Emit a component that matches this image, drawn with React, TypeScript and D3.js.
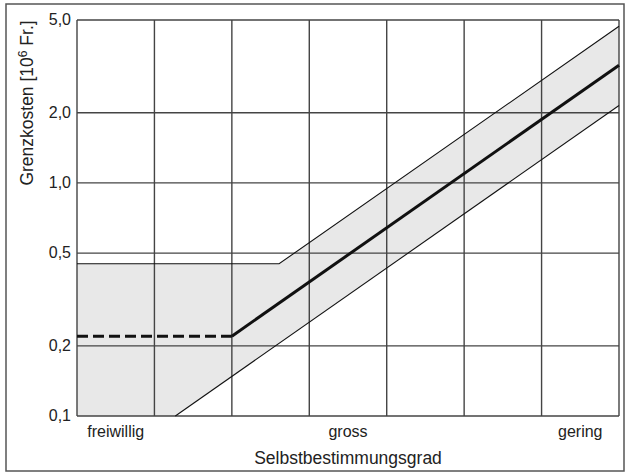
import * as d3 from "d3";

// Column index along the x axis (7 grid columns), y values in 10^6 Fr.
const yTicks = [0.1, 0.2, 0.5, 1.0, 2.0, 5.0];
const xGrid = [0, 1, 2, 3, 4, 5, 6, 7];
const xLabels = [
  { pos: 0.5, text: "freiwillig" },
  { pos: 3.5, text: "gross" },
  { pos: 6.5, text: "gering" },
];
const upperBand: [number, number][] = [[0, 0.45], [2.61, 0.45], [7, 4.7]];
const lowerBand: [number, number][] = [[1.27, 0.1], [7, 2.15]];
const mainDashed: [number, number][] = [[0, 0.22], [2, 0.22]];
const mainSolid: [number, number][] = [[2, 0.22], [7, 3.2]];

const W = 627, H = 475;
const ML = 77, MR = 8, MT = 20, MB = 59;
const font = "'Liberation Sans', Arial, sans-serif";

export default function App() {
  const x = d3.scaleLinear().domain([0, 7]).range([ML, W - MR]);
  const y = d3.scaleLog().domain([0.1, 5]).range([H - MB, MT]);
  const line = d3.line<[number, number]>().x(d => x(d[0])).y(d => y(d[1]));

  // shaded band: under upper line, above lower line, down to 0.1 on the left
  const bandPts: [number, number][] = [
    ...upperBand,
    ...lowerBand.slice().reverse(),
    [0, 0.1],
  ];

  return (
    <svg width={W} height={H} style={{ position: "absolute", left: 0, top: 0, background: "#fff" }}
      fontFamily={font}>
      <rect x={6} y={4} width={618} height={467} fill="none" stroke="#555" strokeWidth={1.5} />
      <path d={line(bandPts) + "Z"} fill="#e8e8e8" />
      {yTicks.map(t => (
        <line key={"h" + t} x1={x(0)} x2={x(7)} y1={y(t)} y2={y(t)} stroke="#444" strokeWidth={1.4} />
      ))}
      {xGrid.map(g => (
        <line key={"v" + g} x1={x(g)} x2={x(g)} y1={y(5)} y2={y(0.1)} stroke="#444" strokeWidth={1.4} />
      ))}
      <path d={line(upperBand)!} fill="none" stroke="#111" strokeWidth={1.1} />
      <path d={line(lowerBand)!} fill="none" stroke="#111" strokeWidth={1.1} />
      <path d={line(mainDashed)!} fill="none" stroke="#111" strokeWidth={3} strokeDasharray="11 5" />
      <path d={line(mainSolid)!} fill="none" stroke="#111" strokeWidth={3} />
      {yTicks.map(t => (
        <text key={"t" + t} x={x(0) - 6} y={y(t) + 5} textAnchor="end" fontSize={16} fill="#222">
          {t.toFixed(1).replace(".", ",")}
        </text>
      ))}
      {xLabels.map(l => (
        <text key={l.text} x={x(l.pos)} y={437} textAnchor="middle" fontSize={16} fill="#222">
          {l.text}
        </text>
      ))}
      <text x={x(3.5)} y={464} textAnchor="middle" fontSize={17.5} fill="#222">Selbstbestimmungsgrad</text>
      <text transform="translate(33,103) rotate(-90)" textAnchor="middle" fontSize={17.5} fill="#222">
        Grenzkosten [10<tspan dy={-6} fontSize={12}>6</tspan><tspan dy={6}> Fr.]</tspan>
      </text>
    </svg>
  );
}
